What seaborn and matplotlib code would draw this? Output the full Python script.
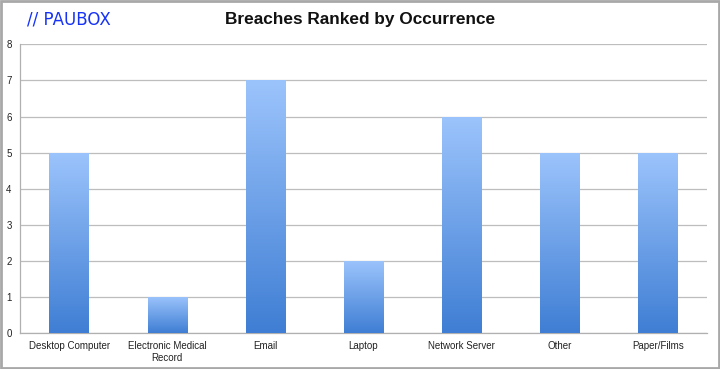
import numpy as np
import pandas as pd
import seaborn as sns
import matplotlib.pyplot as plt
from matplotlib.colors import LinearSegmentedColormap
from matplotlib.patches import Rectangle

categories = ["Desktop Computer", "Electronic Medical\nRecord", "Email", "Laptop",
              "Network Server", "Other", "Paper/Films"]
counts = [5, 1, 7, 2, 6, 5, 5]
yticks = [0, 1, 2, 3, 4, 5, 6, 7, 8]

df = pd.DataFrame({"type": categories, "count": counts})

sns.set_style("white")
plt.rcParams["font.family"] = ["Liberation Sans", "DejaVu Sans"]

fig = plt.figure(figsize=(7.2, 3.69), dpi=100)
ax = fig.add_axes([0.0278, 0.0976, 0.954, 0.782])

sns.barplot(data=df, x="type", y="count", ax=ax, width=0.40, color="#6fa3ea",
            zorder=3)

# vertical gradient on each bar (light at top, darker at bottom)
grad = LinearSegmentedColormap.from_list("bar", ["#3f7ed4", "#9cc4fc"])
img = np.linspace(0, 1, 256).reshape(-1, 1)
for p in ax.patches:
    x0, y0 = p.get_x(), p.get_y()
    w, h = p.get_width(), p.get_height()
    im = ax.imshow(img, cmap=grad, origin="lower", aspect="auto",
                   extent=[x0, x0 + w, y0, y0 + h], zorder=3)
    im.set_clip_path(p)
    p.set_facecolor("none")
    p.set_edgecolor("none")

ax.set_xlim(-0.5, len(categories) - 0.5)
ax.set_ylim(0, 8)
ax.set_yticks(yticks)
ax.yaxis.grid(True, color="#bdbdbd", linewidth=0.9, zorder=0)
ax.set_xlabel("")
ax.set_ylabel("")
ax.tick_params(axis="x", labelsize=7, colors="#222222", length=0, pad=6)
ax.set_xticks(np.arange(-0.5, len(categories), 1), minor=True)
ax.tick_params(axis="x", which="minor", length=3, color="#aaaaaa", width=0.8)
ax.tick_params(axis="y", labelsize=7, labelcolor="#222222", length=3,
               color="#bdbdbd", width=0.9, pad=3)
for s in ["top", "right"]:
    ax.spines[s].set_visible(False)
for s in ["left", "bottom"]:
    ax.spines[s].set_color("#b0b0b0")
    ax.spines[s].set_linewidth(0.9)

fig.text(0.5, 0.946, "Breaches Ranked by Occurrence", ha="center", va="center",
         fontsize=12.4, fontweight="bold", color="#111111")
fig.text(0.038, 0.946, "// PAUBOX", ha="left", va="center", fontsize=12,
         color="#1633f5", family=["DejaVu Sans"])

fig.patches.append(Rectangle((0.001, 0.002), 0.997, 0.995, transform=fig.transFigure,
                             fill=False, edgecolor="#a8a8a8", linewidth=2))

fig.savefig("out.png", dpi=100)
